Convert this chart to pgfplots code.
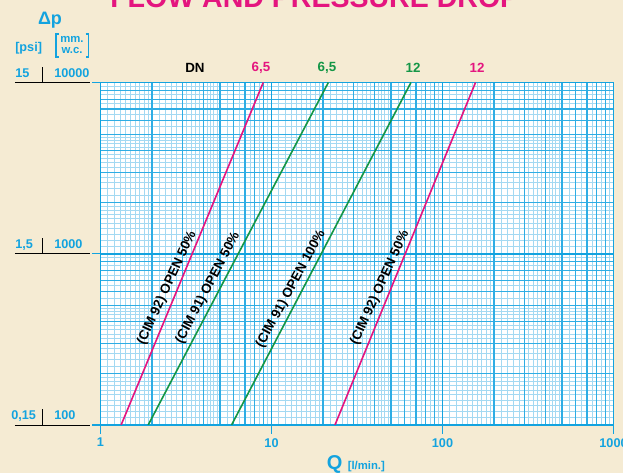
\documentclass[border=0pt]{standalone}
\usepackage{fontspec}
\setmainfont{Liberation Sans}
\usepackage{pgfplots}
\pgfplotsset{compat=1.18}
\definecolor{cream}{HTML}{F5EBD3}
\definecolor{cyanT}{HTML}{13A3DF}
\definecolor{gridmin}{HTML}{2EADE4}
\definecolor{gridfine}{HTML}{A3D9F2}
\definecolor{mag}{HTML}{E4157F}
\definecolor{grn}{HTML}{149646}
\begin{document}
\begin{tikzpicture}[x=0.75pt,y=0.75pt]
\fill[cream] (-100.5,-48) rectangle (522.5,425);
\fill[white] (0,0) rectangle (513,342.5);
% log-paper grid (background decoration): fine, minor, major
\foreach \d in {1,10,100}{
  \foreach \m in {1.1,1.2,1.3,1.4,1.5,1.6,1.7,1.8,1.9,2.2,2.4,2.6,2.8,3.2,3.4,3.6,3.8,4.2,4.4,4.6,4.8,5.5,6.5,7.5,8.5,9.5}{
    \pgfmathsetmacro\u{171*log10(\m*\d)}
    \draw[gridfine, line width=0.7pt] (\u,0) -- (\u,342.5);
  }
}
\foreach \d in {1,10}{
  \foreach \m in {1.1,1.2,1.3,1.4,1.5,1.6,1.7,1.8,1.9,2.2,2.4,2.6,2.8,3.2,3.4,3.6,3.8,4.2,4.4,4.6,4.8,5.5,6.5,7.5,8.5,9.5}{
    \pgfmathsetmacro\w{171.25*log10(\m*\d)}
    \draw[gridfine, line width=0.7pt] (0,\w) -- (513,\w);
  }
}
\foreach \d in {1,10,100}{
  \foreach \m in {2,3,4,5,6,7,8,9}{
    \pgfmathsetmacro\u{171*log10(\m*\d)}
    \draw[gridmin, line width=0.8pt] (\u,0) -- (\u,342.5);
  }
}
\foreach \d in {1,10}{
  \foreach \m in {2,3,4,5,6,7,8,9}{
    \pgfmathsetmacro\w{171.25*log10(\m*\d)}
    \draw[gridmin, line width=0.8pt] (0,\w) -- (513,\w);
  }
}
\foreach \u in {171,342}{\draw[cyanT, line width=1.4pt] (\u,0) -- (\u,342.5);}
\draw[cyanT, line width=1.4pt] (0,171.25) -- (513,171.25);
\begin{axis}[
  at={(0,0)}, anchor=south west,
  scale only axis, width=384.75pt, height=256.875pt,
  xmode=log, ymode=log,
  xmin=1, xmax=1000, ymin=100, ymax=10000,
  xtick={1,10,100,1000}, xticklabels={1,10,100,1000},
  ytick={100,1000,10000}, yticklabels={,,},
  minor xtick={}, minor ytick={},
  xtick pos=bottom, ytick pos=left,
  tick align=outside, major tick length=6.4pt, minor tick length=0pt,
  axis line style={draw=cyanT, line width=1.4pt},
  major tick style={draw=cyanT, line width=1.1pt},
  xticklabel style={font=\bfseries\fontsize{9.5}{11}\selectfont, text=cyanT},
]
\addplot[mag, line width=1.2pt] coordinates {(1.32,100) (8.95,10000)};
\addplot[grn, line width=1.2pt] coordinates {(1.90,100) (21.5,10000)};
\addplot[grn, line width=1.2pt] coordinates {(5.84,100) (65.4,10000)};
\addplot[mag, line width=1.2pt] coordinates {(23.5,100) (156,10000)};
\end{axis}
% rotated curve labels
\begin{scope}[every node/.style={font=\bfseries\fontsize{10}{12}\selectfont, text=black, inner sep=0pt}]
\node[rotate=65.3] at (66.5,137) {(CIM 92) OPEN 50\%};
\node[rotate=62.4] at (107.5,137) {(CIM 91) OPEN 50\%};
\node[rotate=61.5] at (190.5,136) {(CIM 91) OPEN 100\%};
\node[rotate=65.5] at (279.5,137) {(CIM 92) OPEN 50\%};
% DN labels
\node at (94.5,357.5) {DN};
\node[text=mag] at (160.5,357.5) {6,5};
\node[text=grn] at (226.5,357.5) {6,5};
\node[text=grn] at (312.5,357.5) {12};
\node[text=mag] at (376.5,357.5) {12};
\end{scope}
% title (cut at top)
\node[anchor=base west, inner sep=0pt, text=mag, font=\bfseries\fontsize{21.4}{24}\selectfont] at (9.5,417.7) {FLOW AND PRESSURE DROP};
% y axis header
\node[anchor=base, inner sep=0pt, text=cyanT, font=\bfseries\fontsize{13.5}{15}\selectfont] at (-50.5,400) {Δp};
\node[anchor=base west, inner sep=0pt, text=cyanT, font=\bfseries\fontsize{9.5}{11}\selectfont] at (-85.5,373) {[psi]};
\node[align=center, inner sep=0pt, text=cyanT, font=\bfseries\fontsize{8.5}{8.5}\selectfont] at (-28.5,380) {mm.\\w.c.};
\draw[cyanT, line width=1.3pt] (-41.5,391) -- (-44.5,391) -- (-44.5,368) -- (-41.5,368);
\draw[cyanT, line width=1.3pt] (-15,391) -- (-12,391) -- (-12,368) -- (-15,368);
% y tick rows
\begin{scope}[every node/.style={anchor=base west, inner sep=0pt, text=cyanT, font=\bfseries\fontsize{9.5}{11}\selectfont}]
\node at (-85.5,347.5) {15};
\node at (-46.5,347.5) {10000};
\node at (-85.5,176.25) {1,5};
\node at (-46.5,176.25) {1000};
\node at (-89.5,5) {0,15};
\node at (-46.5,5) {100};
\end{scope}
\draw[black, line width=0.7pt] (-85.5,342.5) -- (-10.5,342.5) (-58.2,342.5) -- (-58.2,358);
\draw[black, line width=0.7pt] (-85.5,171.25) -- (-10.5,171.25) (-58.2,171.25) -- (-58.2,187);
\draw[black, line width=0.7pt] (-85.5,0) -- (-10.5,0) (-58.2,0) -- (-58.2,16);
% x axis label
\node[anchor=base west, inner sep=0pt, text=cyanT, font=\bfseries\fontsize{15}{17}\selectfont] at (226,-45) {Q};
\node[anchor=base west, inner sep=0pt, text=cyanT, font=\bfseries\fontsize{8.5}{10}\selectfont] at (247,-45) {[l/min.]};
\pgfresetboundingbox
\path[use as bounding box] (-100.5,-48) rectangle (522.5,425);
\end{tikzpicture}
\end{document}
